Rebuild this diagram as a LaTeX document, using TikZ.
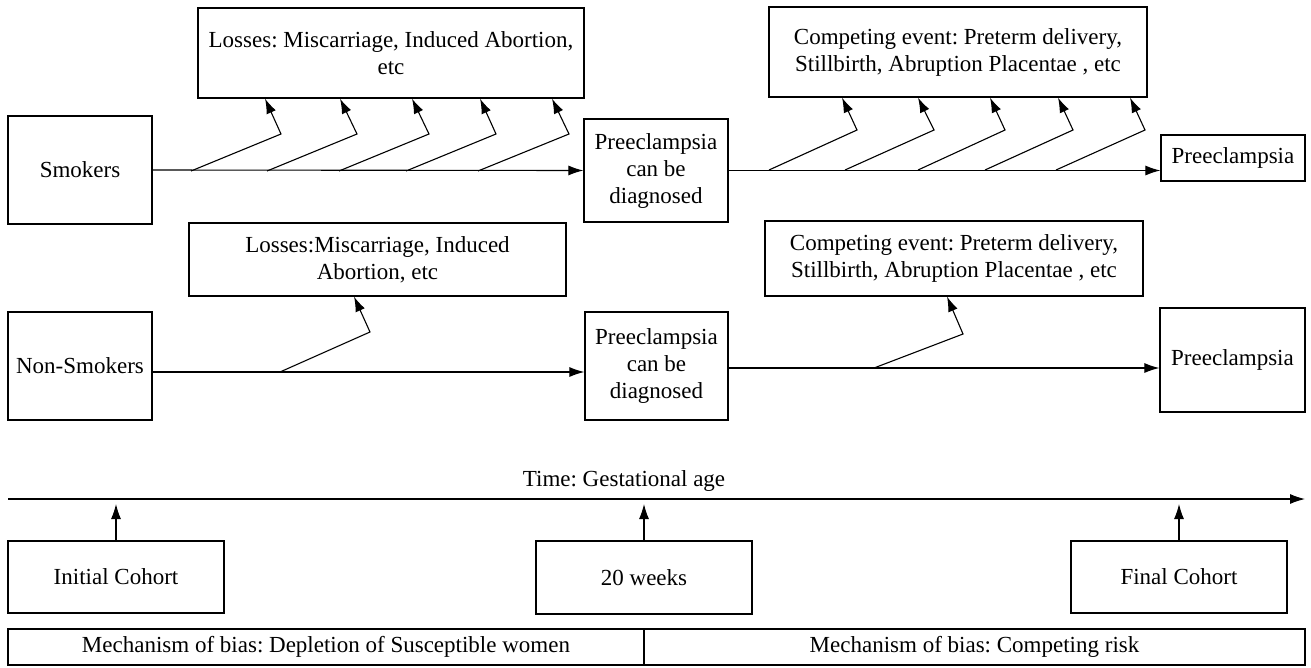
\documentclass[tikz,border=0pt]{standalone}
\usepackage{fontspec}
\setmainfont{Liberation Serif}
\usetikzlibrary{arrows.meta,calc}
\frenchspacing

\begin{document}
\begin{tikzpicture}[x=1pt,y=-1pt,
  every node/.style={font=\fontsize{23}{27}\selectfont\frenchspacing, inner sep=0pt, align=center},
  box/.style={draw, line width=1.2pt},
  arr/.style={line width=1.1pt, -{Latex[length=15pt,width=10pt]}}]
\useasboundingbox (0,0) rectangle (1311,667);

% --- upper row: smokers ---
\node[box, minimum width=144pt, minimum height=108pt] (smk) at (80,170) {Smokers};
\node[box, minimum width=386pt, minimum height=90pt] (L1) at (391,53)
  {Losses: Miscarriage, Induced Abortion,\\etc};
\node[box, minimum width=144pt, minimum height=103pt] (pre1) at (656,170.5)
  {Preeclampsia\\can be\\diagnosed};
\node[box, minimum width=378pt, minimum height=90pt] (C1) at (958,52)
  {Competing event: Preterm delivery,\\Stillbirth, Abruption Placentae , etc};
\node[box, minimum width=144pt, minimum height=46pt] (pe1) at (1233,158) {Preeclampsia};

\draw[arr] (smk.east) -- (pre1.west);
\draw[arr] (pre1.east) -- (pre1.east -| pe1.west);

% branches leaving the smokers line
\foreach \s/\e/\t in {191/281/265, 267/357/340, 339/429/412, 406/496/480, 478/569/552}
  \draw[arr] (\s,171) -- (\e,134) -- (L1.south -| \t,0);
\foreach \s/\e/\t in {769/857/842, 845/934/918, 918/1005/990, 985/1073/1058, 1056/1145/1130}
  \draw[arr] (\s,170) -- (\e,130) -- (C1.south -| \t,0);

% --- lower row: non-smokers ---
\node[box, minimum width=144pt, minimum height=108pt] (nsmk) at (80,366) {Non-Smokers};
\node[box, minimum width=377pt, minimum height=73pt] (L2) at (377.5,259.5)
  {Losses:Miscarriage, Induced\\Abortion, etc};
\node[box, minimum width=143pt, minimum height=108pt] (pre2) at (656.5,366)
  {Preeclampsia\\can be\\diagnosed};
\node[box, minimum width=378pt, minimum height=75pt] (C2) at (954,258.5)
  {Competing event: Preterm delivery,\\Stillbirth, Abruption Placentae , etc};
\node[box, minimum width=145pt, minimum height=104pt] (pe2) at (1232.5,360) {Preeclampsia};

\draw[arr] ([yshift=-6pt]nsmk.east) -- ([yshift=-6pt]pre2.west);
\draw[arr] ([yshift=-2pt]pre2.east) -- ([yshift=-2pt]pre2.east -| pe2.west);

\draw[arr] (280,372) -- (370,332) -- (L2.south -| 354,0);
\draw[arr] (874,368) -- (963,334) -- (C2.south -| 947,0);

% --- time axis ---
\coordinate (t0) at (8,499);
\coordinate (t1) at (1305,499);
\draw[arr] (t0) -- (t1);
\node (tlab) at (624,481) {Time: Gestational age};

\node[box, minimum width=216pt, minimum height=72pt] (init) at (116,577) {Initial Cohort};
\node[box, minimum width=216pt, minimum height=73pt] (wk20) at (644,577.5) {20 weeks};
\node[box, minimum width=216pt, minimum height=72pt] (fin) at (1179,577) {Final Cohort};

\foreach \n in {init, wk20, fin}
  \draw[arr, shorten >=5pt] (\n.north) -- (\n.north |- t0);

% --- mechanisms of bias ---
\node[box, minimum width=636pt, minimum height=36pt] (biasL) at (326,647)
  {Mechanism of bias: Depletion of Susceptible women};
\node[box, minimum width=661pt, minimum height=36pt] (biasR) at (974.5,647)
  {Mechanism of bias: Competing risk};
\end{tikzpicture}
\end{document}
